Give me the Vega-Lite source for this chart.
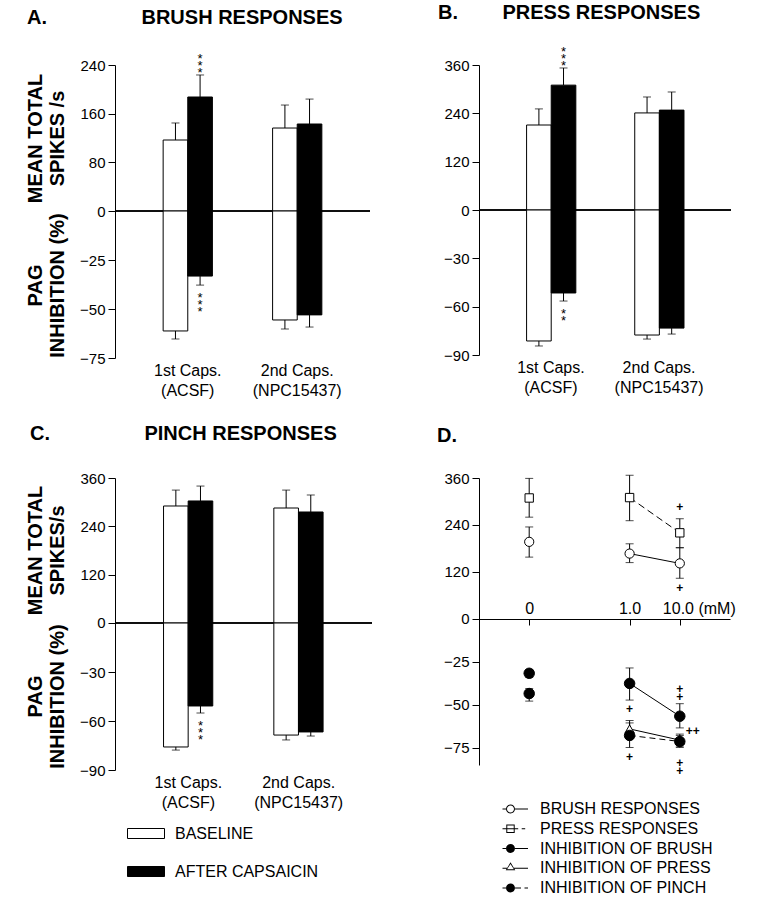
{
  "$schema": "https://vega.github.io/schema/vega-lite/v6.json",
  "padding": {"left": 25, "top": 3, "right": 0, "bottom": 0},
  "background": "white",
  "datasets": {
    "barsA": [
      {"cat": "1st Caps. (ACSF)", "condition": "BASELINE", "spikes": 116.7, "spikesHi": 144.7, "inhib": -61.2, "inhibLo": -65.3, "starTop": "", "starBot": ""},
      {"cat": "1st Caps. (ACSF)", "condition": "AFTER CAPSAICIN", "spikes": 187.4, "spikesHi": 223.6, "inhib": -33.2, "inhibLo": -37.8, "starTop": "*|*|*", "starBot": "*|*|*"},
      {"cat": "2nd Caps. (NPC15437)", "condition": "BASELINE", "spikes": 136.4, "spikesHi": 174.2, "inhib": -55.6, "inhibLo": -60.2, "starTop": "", "starBot": ""},
      {"cat": "2nd Caps. (NPC15437)", "condition": "AFTER CAPSAICIN", "spikes": 143, "spikesHi": 184, "inhib": -53, "inhibLo": -59.2, "starTop": "", "starBot": ""}
    ],
    "barsB": [
      {"cat": "1st Caps. (ACSF)", "condition": "BASELINE", "spikes": 211, "spikesHi": 251, "inhib": -81.3, "inhibLo": -84.4, "starTop": "", "starBot": ""},
      {"cat": "1st Caps. (ACSF)", "condition": "AFTER CAPSAICIN", "spikes": 310, "spikesHi": 352.6, "inhib": -51.5, "inhibLo": -56.5, "starTop": "*|*|*", "starBot": "*|*"},
      {"cat": "2nd Caps. (NPC15437)", "condition": "BASELINE", "spikes": 241, "spikesHi": 280.6, "inhib": -77.6, "inhibLo": -80.1, "starTop": "", "starBot": ""},
      {"cat": "2nd Caps. (NPC15437)", "condition": "AFTER CAPSAICIN", "spikes": 248, "spikesHi": 293, "inhib": -73.3, "inhibLo": -77, "starTop": "", "starBot": ""}
    ],
    "barsC": [
      {"cat": "1st Caps. (ACSF)", "condition": "BASELINE", "spikes": 290.5, "spikesHi": 330, "inhib": -75.9, "inhibLo": -77.8, "starTop": "", "starBot": ""},
      {"cat": "1st Caps. (ACSF)", "condition": "AFTER CAPSAICIN", "spikes": 303, "spikesHi": 340, "inhib": -50.8, "inhibLo": -55.1, "starTop": "", "starBot": "*|*|*"},
      {"cat": "2nd Caps. (NPC15437)", "condition": "BASELINE", "spikes": 285.5, "spikesHi": 330, "inhib": -68.6, "inhibLo": -71.6, "starTop": "", "starBot": ""},
      {"cat": "2nd Caps. (NPC15437)", "condition": "AFTER CAPSAICIN", "spikes": 275.6, "spikesHi": 317.8, "inhib": -66.7, "inhibLo": -69.2, "starTop": "", "starBot": ""}
    ],
    "dTop": [
      {"series": "PRESS RESPONSES", "dose": "0", "value": 309, "lo": 260, "hi": 359},
      {"series": "BRUSH RESPONSES", "dose": "0", "value": 197, "lo": 158, "hi": 235},
      {"series": "PRESS RESPONSES", "dose": "1.0", "value": 310, "lo": 251, "hi": 367},
      {"series": "BRUSH RESPONSES", "dose": "1.0", "value": 167, "lo": 144, "hi": 192},
      {"series": "PRESS RESPONSES", "dose": "10.0", "value": 220, "lo": 182, "hi": 256},
      {"series": "BRUSH RESPONSES", "dose": "10.0", "value": 142, "lo": 104, "hi": 182}
    ],
    "dBot": [
      {"series": "INHIBITION OF BRUSH", "dose": "0", "value": -31.6, "lo": -34, "hi": -29.5},
      {"series": "INHIBITION OF PINCH", "dose": "0", "value": -43.4, "lo": -47.8, "hi": -40.5},
      {"series": "INHIBITION OF BRUSH", "dose": "1.0", "value": -37.5, "lo": -47.2, "hi": -28.5},
      {"series": "INHIBITION OF PRESS", "dose": "1.0", "value": -64, "lo": -69, "hi": -59.1},
      {"series": "INHIBITION OF PINCH", "dose": "1.0", "value": -67.8, "lo": -74.8, "hi": -60.5},
      {"series": "INHIBITION OF BRUSH", "dose": "10.0", "value": -56.6, "lo": -63.4, "hi": -49.3},
      {"series": "INHIBITION OF PRESS", "dose": "10.0", "value": -70.5, "lo": -74, "hi": -67},
      {"series": "INHIBITION OF PINCH", "dose": "10.0", "value": -71.3, "lo": -74.8, "hi": -67.8}
    ],
    "dPlusTop": [
      {"dose": "10.0", "value": 285.7, "sym": "+", "side": "center"},
      {"dose": "10.0", "value": 78.6, "sym": "+", "side": "center"}
    ],
    "dPlusBot": [
      {"dose": "1.0", "value": -52.2, "sym": "+", "side": "center"},
      {"dose": "1.0", "value": -80.1, "sym": "+", "side": "center"},
      {"dose": "10.0", "value": -40.5, "sym": "+", "side": "center"},
      {"dose": "10.0", "value": -45.2, "sym": "+", "side": "center"},
      {"dose": "10.0", "value": -83.6, "sym": "+", "side": "center"},
      {"dose": "10.0", "value": -88.5, "sym": "+", "side": "center"},
      {"dose": "10.0", "value": -65, "sym": "++", "side": "right"}
    ]
  },
  "columns": 2,
  "bounds": "flush",
  "spacing": {"row": 120, "column": 107},
  "concat": [
    {
      "width": 255, "height": 293,
      "title": {"text": "A.\u00a0\u00a0\u00a0\u00a0\u00a0\u00a0\u00a0\u00a0\u00a0\u00a0\u00a0\u00a0\u00a0\u00a0\u00a0\u00a0\u00a0BRUSH RESPONSES", "anchor": "start", "frame": "group", "dx": -88, "offset": 25},
      "data": {"name": "barsA"},
      "resolve": {"scale": {"y": "independent"}, "axis": {"y": "independent"}},
      "layer": [
        {"layer": [
          {"mark": {"type": "rule", "color": "black", "strokeWidth": 1},
           "encoding": {"y": {"datum": 0, "type": "quantitative", "scale": {"domain": [-241.6, 240], "nice": false, "zero": false}, "axis": {"values": [0, 80, 160, 240], "title": ["MEAN TOTAL", "SPIKES /s"], "titleY": 73}}}},
          {"mark": {"type": "bar", "stroke": "black", "strokeWidth": 1},
           "encoding": {
             "x": {"field": "cat", "type": "nominal", "sort": null, "scale": {"paddingInner": 0.55, "paddingOuter": 0.44}, "axis": {"title": null, "domain": false, "ticks": false, "labelAngle": 0, "labelFontSize": 16, "labelLineHeight": 20, "labelPadding": 4, "labelExpr": "split(replace(datum.label, ' (', '|('), '|')"}},
             "xOffset": {"field": "condition", "type": "nominal", "sort": ["BASELINE", "AFTER CAPSAICIN"], "scale": {"paddingInner": 0, "paddingOuter": 0}},
             "y": {"field": "spikes", "type": "quantitative", "scale": {"domain": [-241.6, 240], "nice": false, "zero": false}},
             "fill": {"field": "condition", "type": "nominal", "scale": {"domain": ["BASELINE", "AFTER CAPSAICIN"], "range": ["white", "black"]},
               "legend": {"title": null, "orient": "none", "legendX": 20.5, "legendY": 758, "symbolType": "M-1.85,-0.5H1.85V0.5H-1.85Z", "symbolSize": 400, "symbolStrokeColor": "black", "symbolStrokeWidth": 1, "symbolOpacity": 1, "labelFontSize": 16, "labelColor": "black", "labelOffset": 18.5, "rowPadding": 19, "padding": 0}}}},
          {"mark": {"type": "rule", "color": "black", "strokeWidth": 1},
           "encoding": {
             "x": {"field": "cat", "type": "nominal", "sort": null},
             "xOffset": {"field": "condition", "type": "nominal", "sort": ["BASELINE", "AFTER CAPSAICIN"]},
             "y": {"field": "spikes", "type": "quantitative", "scale": {"domain": [-241.6, 240], "nice": false, "zero": false}}, "y2": {"field": "spikesHi"}}},
          {"mark": {"type": "tick", "color": "black", "thickness": 1, "size": 8, "orient": "horizontal"},
           "encoding": {
             "x": {"field": "cat", "type": "nominal", "sort": null},
             "xOffset": {"field": "condition", "type": "nominal", "sort": ["BASELINE", "AFTER CAPSAICIN"]},
             "y": {"field": "spikesHi", "type": "quantitative", "scale": {"domain": [-241.6, 240], "nice": false, "zero": false}}}},
          {"mark": {"type": "text", "lineBreak": "|", "lineHeight": 7, "baseline": "bottom", "fontSize": 13, "dy": -9, "color": "black"},
           "encoding": {
             "x": {"field": "cat", "type": "nominal", "sort": null},
             "xOffset": {"field": "condition", "type": "nominal", "sort": ["BASELINE", "AFTER CAPSAICIN"]},
             "y": {"field": "spikesHi", "type": "quantitative", "scale": {"domain": [-241.6, 240], "nice": false, "zero": false}}, "text": {"field": "starTop"}}}
        ]},
        {"layer": [
          {"mark": {"type": "bar", "stroke": "black", "strokeWidth": 1},
           "encoding": {
             "x": {"field": "cat", "type": "nominal", "sort": null},
             "xOffset": {"field": "condition", "type": "nominal", "sort": ["BASELINE", "AFTER CAPSAICIN"]},
             "y": {"field": "inhib", "type": "quantitative", "scale": {"domain": [-75, 74.5], "nice": false, "zero": false}, "axis": {"orient": "left", "values": [-25, -50, -75], "domain": false, "title": ["PAG", "INHIBITION (%)"], "titleY": 220}},
             "fill": {"field": "condition", "type": "nominal", "scale": {"domain": ["BASELINE", "AFTER CAPSAICIN"], "range": ["white", "black"]},
               "legend": {"title": null, "orient": "none", "legendX": 20.5, "legendY": 758, "symbolType": "M-1.85,-0.5H1.85V0.5H-1.85Z", "symbolSize": 400, "symbolStrokeColor": "black", "symbolStrokeWidth": 1, "symbolOpacity": 1, "labelFontSize": 16, "labelColor": "black", "labelOffset": 18.5, "rowPadding": 19, "padding": 0}}}},
          {"mark": {"type": "rule", "color": "black", "strokeWidth": 1},
           "encoding": {
             "x": {"field": "cat", "type": "nominal", "sort": null},
             "xOffset": {"field": "condition", "type": "nominal", "sort": ["BASELINE", "AFTER CAPSAICIN"]},
             "y": {"field": "inhib", "type": "quantitative", "scale": {"domain": [-75, 74.5], "nice": false, "zero": false}}, "y2": {"field": "inhibLo"}}},
          {"mark": {"type": "tick", "color": "black", "thickness": 1, "size": 8, "orient": "horizontal"},
           "encoding": {
             "x": {"field": "cat", "type": "nominal", "sort": null},
             "xOffset": {"field": "condition", "type": "nominal", "sort": ["BASELINE", "AFTER CAPSAICIN"]},
             "y": {"field": "inhibLo", "type": "quantitative", "scale": {"domain": [-75, 74.5], "nice": false, "zero": false}}}},
          {"mark": {"type": "text", "lineBreak": "|", "lineHeight": 7, "baseline": "top", "fontSize": 13, "dy": 7, "color": "black"},
           "encoding": {
             "x": {"field": "cat", "type": "nominal", "sort": null},
             "xOffset": {"field": "condition", "type": "nominal", "sort": ["BASELINE", "AFTER CAPSAICIN"]},
             "y": {"field": "inhibLo", "type": "quantitative", "scale": {"domain": [-75, 74.5], "nice": false, "zero": false}}, "text": {"field": "starBot"}}}
        ]}
      ]
    },
    {
      "width": 252, "height": 290,
      "title": {"text": "B.\u00a0\u00a0\u00a0\u00a0\u00a0\u00a0\u00a0\u00a0PRESS RESPONSES", "anchor": "start", "frame": "group", "dx": -41, "offset": 22.5},
      "data": {"name": "barsB"},
      "resolve": {"scale": {"y": "independent"}, "axis": {"y": "independent"}},
      "layer": [
        {"layer": [
          {"mark": {"type": "rule", "color": "black", "strokeWidth": 1},
           "encoding": {"y": {"datum": 0, "type": "quantitative", "scale": {"domain": [-360, 360], "nice": false, "zero": false}, "axis": {"values": [0, 120, 240, 360], "title": null}}}},
          {"mark": {"type": "bar", "stroke": "black", "strokeWidth": 1},
           "encoding": {
             "x": {"field": "cat", "type": "nominal", "sort": null, "scale": {"paddingInner": 0.55, "paddingOuter": 0.44}, "axis": {"title": null, "domain": false, "ticks": false, "labelAngle": 0, "labelFontSize": 16, "labelLineHeight": 20, "labelPadding": 4, "labelExpr": "split(replace(datum.label, ' (', '|('), '|')"}},
             "xOffset": {"field": "condition", "type": "nominal", "sort": ["BASELINE", "AFTER CAPSAICIN"], "scale": {"paddingInner": 0, "paddingOuter": 0}},
             "y": {"field": "spikes", "type": "quantitative", "scale": {"domain": [-360, 360], "nice": false, "zero": false}},
             "fill": {"field": "condition", "type": "nominal", "scale": {"domain": ["BASELINE", "AFTER CAPSAICIN"], "range": ["white", "black"]},
               "legend": {"title": null, "orient": "none", "legendX": 20.5, "legendY": 758, "symbolType": "M-1.85,-0.5H1.85V0.5H-1.85Z", "symbolSize": 400, "symbolStrokeColor": "black", "symbolStrokeWidth": 1, "symbolOpacity": 1, "labelFontSize": 16, "labelColor": "black", "labelOffset": 18.5, "rowPadding": 19, "padding": 0}}}},
          {"mark": {"type": "rule", "color": "black", "strokeWidth": 1},
           "encoding": {
             "x": {"field": "cat", "type": "nominal", "sort": null},
             "xOffset": {"field": "condition", "type": "nominal", "sort": ["BASELINE", "AFTER CAPSAICIN"]},
             "y": {"field": "spikes", "type": "quantitative", "scale": {"domain": [-360, 360], "nice": false, "zero": false}}, "y2": {"field": "spikesHi"}}},
          {"mark": {"type": "tick", "color": "black", "thickness": 1, "size": 8, "orient": "horizontal"},
           "encoding": {
             "x": {"field": "cat", "type": "nominal", "sort": null},
             "xOffset": {"field": "condition", "type": "nominal", "sort": ["BASELINE", "AFTER CAPSAICIN"]},
             "y": {"field": "spikesHi", "type": "quantitative", "scale": {"domain": [-360, 360], "nice": false, "zero": false}}}},
          {"mark": {"type": "text", "lineBreak": "|", "lineHeight": 7, "baseline": "bottom", "fontSize": 13, "dy": -9, "color": "black"},
           "encoding": {
             "x": {"field": "cat", "type": "nominal", "sort": null},
             "xOffset": {"field": "condition", "type": "nominal", "sort": ["BASELINE", "AFTER CAPSAICIN"]},
             "y": {"field": "spikesHi", "type": "quantitative", "scale": {"domain": [-360, 360], "nice": false, "zero": false}}, "text": {"field": "starTop"}}}
        ]},
        {"layer": [
          {"mark": {"type": "bar", "stroke": "black", "strokeWidth": 1},
           "encoding": {
             "x": {"field": "cat", "type": "nominal", "sort": null},
             "xOffset": {"field": "condition", "type": "nominal", "sort": ["BASELINE", "AFTER CAPSAICIN"]},
             "y": {"field": "inhib", "type": "quantitative", "scale": {"domain": [-90, 90], "nice": false, "zero": false}, "axis": {"orient": "left", "values": [-30, -60, -90], "domain": false, "title": null}},
             "fill": {"field": "condition", "type": "nominal", "scale": {"domain": ["BASELINE", "AFTER CAPSAICIN"], "range": ["white", "black"]},
               "legend": {"title": null, "orient": "none", "legendX": 20.5, "legendY": 758, "symbolType": "M-1.85,-0.5H1.85V0.5H-1.85Z", "symbolSize": 400, "symbolStrokeColor": "black", "symbolStrokeWidth": 1, "symbolOpacity": 1, "labelFontSize": 16, "labelColor": "black", "labelOffset": 18.5, "rowPadding": 19, "padding": 0}}}},
          {"mark": {"type": "rule", "color": "black", "strokeWidth": 1},
           "encoding": {
             "x": {"field": "cat", "type": "nominal", "sort": null},
             "xOffset": {"field": "condition", "type": "nominal", "sort": ["BASELINE", "AFTER CAPSAICIN"]},
             "y": {"field": "inhib", "type": "quantitative", "scale": {"domain": [-90, 90], "nice": false, "zero": false}}, "y2": {"field": "inhibLo"}}},
          {"mark": {"type": "tick", "color": "black", "thickness": 1, "size": 8, "orient": "horizontal"},
           "encoding": {
             "x": {"field": "cat", "type": "nominal", "sort": null},
             "xOffset": {"field": "condition", "type": "nominal", "sort": ["BASELINE", "AFTER CAPSAICIN"]},
             "y": {"field": "inhibLo", "type": "quantitative", "scale": {"domain": [-90, 90], "nice": false, "zero": false}}}},
          {"mark": {"type": "text", "lineBreak": "|", "lineHeight": 7, "baseline": "top", "fontSize": 13, "dy": 7, "color": "black"},
           "encoding": {
             "x": {"field": "cat", "type": "nominal", "sort": null},
             "xOffset": {"field": "condition", "type": "nominal", "sort": ["BASELINE", "AFTER CAPSAICIN"]},
             "y": {"field": "inhibLo", "type": "quantitative", "scale": {"domain": [-90, 90], "nice": false, "zero": false}}, "text": {"field": "starBot"}}}
        ]}
      ]
    },
    {
      "width": 257, "height": 292,
      "title": {"text": "C.\u00a0\u00a0\u00a0\u00a0\u00a0\u00a0\u00a0\u00a0\u00a0\u00a0\u00a0\u00a0\u00a0\u00a0\u00a0\u00a0\u00a0PINCH RESPONSES", "anchor": "start", "frame": "group", "dx": -85, "offset": 27},
      "data": {"name": "barsC"},
      "resolve": {"scale": {"y": "independent"}, "axis": {"y": "independent"}},
      "layer": [
        {"layer": [
          {"mark": {"type": "rule", "color": "black", "strokeWidth": 1},
           "encoding": {"y": {"datum": 0, "type": "quantitative", "scale": {"domain": [-365, 360], "nice": false, "zero": false}, "axis": {"values": [0, 120, 240, 360], "title": ["MEAN TOTAL", "SPIKES/s"], "titleY": 72}}}},
          {"mark": {"type": "bar", "stroke": "black", "strokeWidth": 1},
           "encoding": {
             "x": {"field": "cat", "type": "nominal", "sort": null, "scale": {"paddingInner": 0.55, "paddingOuter": 0.44}, "axis": {"title": null, "domain": false, "ticks": false, "labelAngle": 0, "labelFontSize": 16, "labelLineHeight": 20, "labelPadding": 4, "labelExpr": "split(replace(datum.label, ' (', '|('), '|')"}},
             "xOffset": {"field": "condition", "type": "nominal", "sort": ["BASELINE", "AFTER CAPSAICIN"], "scale": {"paddingInner": 0, "paddingOuter": 0}},
             "y": {"field": "spikes", "type": "quantitative", "scale": {"domain": [-365, 360], "nice": false, "zero": false}},
             "fill": {"field": "condition", "type": "nominal", "scale": {"domain": ["BASELINE", "AFTER CAPSAICIN"], "range": ["white", "black"]},
               "legend": {"title": null, "orient": "none", "legendX": 20.5, "legendY": 758, "symbolType": "M-1.85,-0.5H1.85V0.5H-1.85Z", "symbolSize": 400, "symbolStrokeColor": "black", "symbolStrokeWidth": 1, "symbolOpacity": 1, "labelFontSize": 16, "labelColor": "black", "labelOffset": 18.5, "rowPadding": 19, "padding": 0}}}},
          {"mark": {"type": "rule", "color": "black", "strokeWidth": 1},
           "encoding": {
             "x": {"field": "cat", "type": "nominal", "sort": null},
             "xOffset": {"field": "condition", "type": "nominal", "sort": ["BASELINE", "AFTER CAPSAICIN"]},
             "y": {"field": "spikes", "type": "quantitative", "scale": {"domain": [-365, 360], "nice": false, "zero": false}}, "y2": {"field": "spikesHi"}}},
          {"mark": {"type": "tick", "color": "black", "thickness": 1, "size": 8, "orient": "horizontal"},
           "encoding": {
             "x": {"field": "cat", "type": "nominal", "sort": null},
             "xOffset": {"field": "condition", "type": "nominal", "sort": ["BASELINE", "AFTER CAPSAICIN"]},
             "y": {"field": "spikesHi", "type": "quantitative", "scale": {"domain": [-365, 360], "nice": false, "zero": false}}}}
        ]},
        {"layer": [
          {"mark": {"type": "bar", "stroke": "black", "strokeWidth": 1},
           "encoding": {
             "x": {"field": "cat", "type": "nominal", "sort": null},
             "xOffset": {"field": "condition", "type": "nominal", "sort": ["BASELINE", "AFTER CAPSAICIN"]},
             "y": {"field": "inhib", "type": "quantitative", "scale": {"domain": [-90, 88.8], "nice": false, "zero": false}, "axis": {"orient": "left", "values": [-30, -60, -90], "domain": false, "title": ["PAG", "INHIBITION (%)"], "titleY": 218}},
             "fill": {"field": "condition", "type": "nominal", "scale": {"domain": ["BASELINE", "AFTER CAPSAICIN"], "range": ["white", "black"]},
               "legend": {"title": null, "orient": "none", "legendX": 20.5, "legendY": 758, "symbolType": "M-1.85,-0.5H1.85V0.5H-1.85Z", "symbolSize": 400, "symbolStrokeColor": "black", "symbolStrokeWidth": 1, "symbolOpacity": 1, "labelFontSize": 16, "labelColor": "black", "labelOffset": 18.5, "rowPadding": 19, "padding": 0}}}},
          {"mark": {"type": "rule", "color": "black", "strokeWidth": 1},
           "encoding": {
             "x": {"field": "cat", "type": "nominal", "sort": null},
             "xOffset": {"field": "condition", "type": "nominal", "sort": ["BASELINE", "AFTER CAPSAICIN"]},
             "y": {"field": "inhib", "type": "quantitative", "scale": {"domain": [-90, 88.8], "nice": false, "zero": false}}, "y2": {"field": "inhibLo"}}},
          {"mark": {"type": "tick", "color": "black", "thickness": 1, "size": 8, "orient": "horizontal"},
           "encoding": {
             "x": {"field": "cat", "type": "nominal", "sort": null},
             "xOffset": {"field": "condition", "type": "nominal", "sort": ["BASELINE", "AFTER CAPSAICIN"]},
             "y": {"field": "inhibLo", "type": "quantitative", "scale": {"domain": [-90, 88.8], "nice": false, "zero": false}}}},
          {"mark": {"type": "text", "lineBreak": "|", "lineHeight": 7, "baseline": "top", "fontSize": 13, "dy": 7, "color": "black"},
           "encoding": {
             "x": {"field": "cat", "type": "nominal", "sort": null},
             "xOffset": {"field": "condition", "type": "nominal", "sort": ["BASELINE", "AFTER CAPSAICIN"]},
             "y": {"field": "inhibLo", "type": "quantitative", "scale": {"domain": [-90, 88.8], "nice": false, "zero": false}}, "text": {"field": "starBot"}}}
        ]}
      ]
    },
    {
      "width": 251, "height": 287,
      "title": {"text": "D.", "anchor": "start", "frame": "group", "dx": -42, "offset": 25.5},
      "resolve": {"scale": {"y": "independent"}, "axis": {"y": "independent"}},
      "layer": [
        {"data": {"name": "dTop"},
         "layer": [
          {"transform": [{"filter": "datum.dose != '0' && datum.series == 'BRUSH RESPONSES'"}],
           "mark": {"type": "line", "color": "black", "strokeWidth": 1},
           "encoding": {
             "x": {"field": "dose", "type": "ordinal", "scale": {"type": "point", "domain": ["0", "gap", "1.0", "10.0"], "padding": 1},
               "axis": {"title": null, "orient": "bottom", "offset": -146, "values": ["0", "1.0", "10.0"], "domain": true, "ticks": true, "tickSize": 6, "labelAngle": 0, "labelFontSize": 16, "labelBaseline": "bottom", "labelPadding": -9, "labelFlush": false,
                 "labelExpr": "datum.value == '10.0' ? '10.0 (mM)' : datum.label",
                 "labelOffset": {"condition": {"test": "datum.value == '10.0'", "value": 19}, "value": 0}}},
             "y": {"field": "value", "type": "quantitative", "scale": {"domain": [-372.8, 360], "nice": false, "zero": false}, "axis": {"values": [0, 120, 240, 360], "title": null}}}},
          {"transform": [{"filter": "datum.dose != '0' && datum.series == 'PRESS RESPONSES'"}],
           "mark": {"type": "line", "color": "black", "strokeWidth": 1, "strokeDash": [7, 4]},
           "encoding": {
             "x": {"field": "dose", "type": "ordinal"},
             "y": {"field": "value", "type": "quantitative", "scale": {"domain": [-372.8, 360], "nice": false, "zero": false}}}},
          {"mark": {"type": "rule", "color": "black", "strokeWidth": 1},
           "encoding": {"x": {"field": "dose", "type": "ordinal"}, "y": {"field": "lo", "type": "quantitative", "scale": {"domain": [-372.8, 360], "nice": false, "zero": false}}, "y2": {"field": "hi"}}},
          {"mark": {"type": "tick", "color": "black", "thickness": 1, "size": 8, "orient": "horizontal"},
           "encoding": {"x": {"field": "dose", "type": "ordinal"}, "y": {"field": "lo", "type": "quantitative", "scale": {"domain": [-372.8, 360], "nice": false, "zero": false}}}},
          {"mark": {"type": "tick", "color": "black", "thickness": 1, "size": 8, "orient": "horizontal"},
           "encoding": {"x": {"field": "dose", "type": "ordinal"}, "y": {"field": "hi", "type": "quantitative", "scale": {"domain": [-372.8, 360], "nice": false, "zero": false}}}},
          {"transform": [{"filter": "datum.series == 'BRUSH RESPONSES'"}],
           "mark": {"type": "point", "shape": "circle", "filled": true, "fill": "white", "stroke": "black", "strokeWidth": 1, "size": 85, "opacity": 1},
           "encoding": {
             "x": {"field": "dose", "type": "ordinal"},
             "y": {"field": "value", "type": "quantitative", "scale": {"domain": [-372.8, 360], "nice": false, "zero": false}}}},
          {"transform": [{"filter": "datum.series == 'PRESS RESPONSES'"}],
           "mark": {"type": "point", "shape": "square", "filled": true, "fill": "white", "stroke": "black", "strokeWidth": 1, "size": 70, "opacity": 1},
           "encoding": {
             "x": {"field": "dose", "type": "ordinal"},
             "y": {"field": "value", "type": "quantitative", "scale": {"domain": [-372.8, 360], "nice": false, "zero": false}}}},
          {"data": {"name": "dPlusTop"},
           "mark": {"type": "text", "fontSize": 12, "fontWeight": "bold", "baseline": "middle", "color": "black"},
           "encoding": {"x": {"field": "dose", "type": "ordinal"}, "y": {"field": "value", "type": "quantitative", "scale": {"domain": [-372.8, 360], "nice": false, "zero": false}}, "text": {"field": "sym"}}}
        ]},
        {"data": {"name": "dBot"},
         "layer": [
          {"transform": [{"filter": "datum.dose != '0' && datum.series != 'INHIBITION OF PINCH'"}],
           "mark": {"type": "line", "color": "black", "strokeWidth": 1},
           "encoding": {
             "x": {"field": "dose", "type": "ordinal"},
             "detail": {"field": "series"},
             "y": {"field": "value", "type": "quantitative", "scale": {"domain": [-85, 82.1], "nice": false, "zero": false}, "axis": {"orient": "left", "values": [-25, -50, -75], "domain": false, "title": null}}}},
          {"transform": [{"filter": "datum.dose != '0' && datum.series == 'INHIBITION OF PINCH'"}],
           "mark": {"type": "line", "color": "black", "strokeWidth": 1, "strokeDash": [6, 4]},
           "encoding": {
             "x": {"field": "dose", "type": "ordinal"},
             "y": {"field": "value", "type": "quantitative", "scale": {"domain": [-85, 82.1], "nice": false, "zero": false}}}},
          {"mark": {"type": "rule", "color": "black", "strokeWidth": 1},
           "encoding": {"x": {"field": "dose", "type": "ordinal"}, "y": {"field": "lo", "type": "quantitative", "scale": {"domain": [-85, 82.1], "nice": false, "zero": false}}, "y2": {"field": "hi"}}},
          {"mark": {"type": "tick", "color": "black", "thickness": 1, "size": 8, "orient": "horizontal"},
           "encoding": {"x": {"field": "dose", "type": "ordinal"}, "y": {"field": "lo", "type": "quantitative", "scale": {"domain": [-85, 82.1], "nice": false, "zero": false}}}},
          {"mark": {"type": "tick", "color": "black", "thickness": 1, "size": 8, "orient": "horizontal"},
           "encoding": {"x": {"field": "dose", "type": "ordinal"}, "y": {"field": "hi", "type": "quantitative", "scale": {"domain": [-85, 82.1], "nice": false, "zero": false}}}},
          {"transform": [{"filter": "datum.series == 'INHIBITION OF PRESS'"}],
           "mark": {"type": "point", "shape": "triangle-up", "filled": true, "fill": "white", "stroke": "black", "strokeWidth": 1, "size": 85, "opacity": 1},
           "encoding": {
             "x": {"field": "dose", "type": "ordinal"},
             "y": {"field": "value", "type": "quantitative", "scale": {"domain": [-85, 82.1], "nice": false, "zero": false}}}},
          {"transform": [{"filter": "datum.series != 'INHIBITION OF PRESS'"}],
           "mark": {"type": "point", "shape": "circle", "filled": true, "fill": "black", "stroke": "black", "strokeWidth": 1, "size": 110, "opacity": 1},
           "encoding": {
             "x": {"field": "dose", "type": "ordinal"},
             "y": {"field": "value", "type": "quantitative", "scale": {"domain": [-85, 82.1], "nice": false, "zero": false}}}},
          {"transform": [{"filter": "false"}],
           "mark": {"type": "point", "filled": true, "fill": "black", "stroke": "black", "strokeWidth": 1, "opacity": 1},
           "encoding": {
             "x": {"field": "dose", "type": "ordinal"},
             "y": {"field": "value", "type": "quantitative", "scale": {"domain": [-85, 82.1], "nice": false, "zero": false}},
             "shape": {"field": "series", "type": "nominal",
               "scale": {"domain": ["BRUSH RESPONSES", "PRESS RESPONSES", "INHIBITION OF BRUSH", "INHIBITION OF PRESS", "INHIBITION OF PINCH"],
                 "range": [
                   "M-2.5,-0.07H-0.64V0.07H-2.5ZM0.64,-0.07H2.5V0.07H0.64ZM0.64,0A0.64,0.64,0,1,1,-0.64,0A0.64,0.64,0,1,1,0.64,0ZM0.5,0A0.5,0.5,0,1,0,-0.5,0A0.5,0.5,0,1,0,0.5,0Z",
                   "M-2.5,-0.07H-0.6V0.07H-2.5ZM0.6,-0.07H1.1V0.07H0.6ZM1.6,-0.07H2.1V0.07H1.6ZM-0.6,-0.6H0.6V0.6H-0.6ZM-0.46,-0.46V0.46H0.46V-0.46ZM-0.46,-0.07H0.46V0.07H-0.46Z",
                   "M-2.5,-0.07H-0.64V0.07H-2.5ZM0.64,-0.07H2.5V0.07H0.64ZM0.64,0A0.64,0.64,0,1,1,-0.64,0A0.64,0.64,0,1,1,0.64,0Z",
                   "M-2.5,-0.07H-0.5V0.07H-2.5ZM0.5,-0.07H2.5V0.07H0.5ZM0,-0.85L0.68,0.3H-0.68ZM0,-0.6L-0.48,0.16H0.48Z",
                   "M-2.5,-0.07H-2V0.07H-2.5ZM-1.5,-0.07H-0.64V0.07H-1.5ZM0.64,-0.07H1.5V0.07H0.64ZM2,-0.07H2.5V0.07H2ZM0.64,0A0.64,0.64,0,1,1,-0.64,0A0.64,0.64,0,1,1,0.64,0Z"]},
               "legend": {"title": null, "orient": "none", "legendX": 387.5, "legendY": 736, "symbolSize": 196, "clipHeight": 16, "rowPadding": 3.75, "labelFontSize": 16, "labelColor": "black", "labelOffset": 21.5, "labelLimit": 400, "padding": 0, "symbolStrokeColor": "black", "symbolFillColor": "black", "symbolStrokeWidth": 1, "symbolOpacity": 1}}}},
          {"data": {"name": "dPlusBot"},
           "transform": [{"filter": "datum.side == 'center'"}],
           "mark": {"type": "text", "fontSize": 12, "fontWeight": "bold", "baseline": "middle", "color": "black"},
           "encoding": {"x": {"field": "dose", "type": "ordinal"}, "y": {"field": "value", "type": "quantitative", "scale": {"domain": [-85, 82.1], "nice": false, "zero": false}}, "text": {"field": "sym"}}},
          {"data": {"name": "dPlusBot"},
           "transform": [{"filter": "datum.side == 'right'"}],
           "mark": {"type": "text", "fontSize": 12, "fontWeight": "bold", "baseline": "middle", "align": "left", "dx": 6, "color": "black"},
           "encoding": {"x": {"field": "dose", "type": "ordinal"}, "y": {"field": "value", "type": "quantitative", "scale": {"domain": [-85, 82.1], "nice": false, "zero": false}}, "text": {"field": "sym"}}}
        ]}
      ]
    }
  ],
  "config": {
    "view": {"stroke": null},
    "font": "Liberation Sans",
    "title": {"fontSize": 20, "fontWeight": "bold", "font": "Liberation Sans", "color": "black"},
    "axis": {"domainColor": "black", "tickColor": "black", "labelColor": "black", "labelFontSize": 15, "labelFont": "Liberation Sans", "grid": false, "tickSize": 7, "labelPadding": 3, "titleFont": "Liberation Sans", "titleFontSize": 20, "titleFontWeight": "bold", "titleColor": "black", "titlePadding": 12, "titleLineHeight": 22, "domainWidth": 1},
    "legend": {"labelFont": "Liberation Sans"},
    "text": {"font": "Liberation Sans"}
  }
}
